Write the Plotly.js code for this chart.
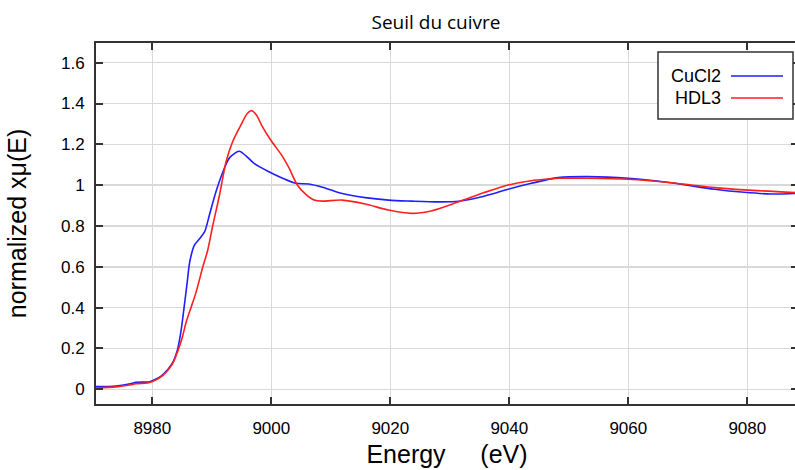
<!DOCTYPE html>
<html>
<head>
<meta charset="utf-8">
<script src="https://cdn.plot.ly/plotly-3.0.1.min.js"></script>
<style>
html,body{margin:0;padding:0;overflow:hidden;background:#fff;}
#chart{width:798px;height:470px;}
</style>
</head>
<body>
<div id="chart"></div>
<script>
// CuCl2 series
const energyCuCl2 = [8970.5, 8973.9, 8976.5, 8977.2, 8979.4, 8980.0, 8981.7, 8983.35, 8984.2, 8984.8, 8985.3, 8985.85, 8986.3, 8987.1, 8987.9, 8988.8, 8989.6, 8990.7, 8991.8, 8993.0, 8994.6, 8995.7, 8997.1, 8999.6, 9001.9, 9004.1, 9006.3, 9008.6, 9011.4, 9015.8, 9019.7, 9023.6, 9028.1, 9031.5, 9035.9, 9039.8, 9043.7, 9048.2, 9053.2, 9060.0, 9067.2, 9074.5, 9079.5, 9084.0, 9088.5];
const muCuCl2 = [0.013, 0.016, 0.028, 0.034, 0.036, 0.042, 0.07, 0.127, 0.19, 0.28, 0.39, 0.52, 0.625, 0.707, 0.736, 0.772, 0.854, 0.968, 1.06, 1.135, 1.166, 1.145, 1.107, 1.066, 1.034, 1.009, 1.006, 0.99, 0.963, 0.939, 0.927, 0.922, 0.918, 0.921, 0.947, 0.98, 1.009, 1.037, 1.042, 1.034, 1.012, 0.98, 0.965, 0.957, 0.96];
// HDL3 series
const energyHDL3 = [8970.5, 8973.9, 8976.5, 8977.2, 8979.4, 8980.0, 8981.7, 8983.35, 8984.2, 8985.0, 8985.7, 8986.5, 8987.3, 8988.5, 8989.3, 8990.15, 8991.3, 8992.4, 8993.5, 8994.9, 8996.0, 8996.7, 8997.5, 8998.5, 8999.9, 9001.9, 9003.0, 9004.4, 9005.8, 9007.2, 9008.6, 9011.9, 9015.8, 9019.7, 9023.6, 9027.0, 9031.5, 9035.9, 9039.8, 9043.7, 9046.5, 9048.2, 9053.2, 9060.0, 9067.2, 9074.5, 9079.5, 9088.5];
const muHDL3 = [0.006, 0.012, 0.022, 0.027, 0.032, 0.038, 0.066, 0.122, 0.18, 0.25, 0.33, 0.40, 0.47, 0.60, 0.68, 0.80, 0.952, 1.115, 1.213, 1.295, 1.352, 1.365, 1.344, 1.287, 1.221, 1.14, 1.083, 1.0, 0.955, 0.927, 0.922, 0.927, 0.908, 0.878, 0.862, 0.875, 0.919, 0.965, 1.001, 1.022, 1.03, 1.034, 1.034, 1.029, 1.012, 0.988, 0.977, 0.963];

const seriesNames = ['CuCl2', 'HDL3'];
const seriesColors = ['#1f1fff', '#ff1f1f'];
const xTicks = [8980, 9000, 9020, 9040, 9060, 9080];
const yTicks = [0, 0.2, 0.4, 0.6, 0.8, 1, 1.2, 1.4, 1.6];
const yTickText = ['0', '0.2', '0.4', '0.6', '0.8', '1', '1.2', '1.4', '1.6'];

const traces = [
  {x: energyCuCl2, y: muCuCl2, name: seriesNames[0], mode: 'lines',
   line: {color: seriesColors[0], width: 1.6, shape: 'spline', smoothing: 0.8}},
  {x: energyHDL3, y: muHDL3, name: seriesNames[1], mode: 'lines',
   line: {color: seriesColors[1], width: 1.6, shape: 'spline', smoothing: 0.8}}
];

// custom legend (text then line sample), placed in paper coordinates
const PW = 702, PH = 361, PL = 96, PB = 404;
const px = v => (v - PL) / PW;
const py = v => (PB - v) / PH;
const rowY = [76, 98];
const shapes = [
  {type: 'rect', xref: 'paper', yref: 'paper', x0: px(658), x1: px(793), y0: py(119), y1: py(52),
   line: {color: '#333', width: 1.5}, fillcolor: '#fff', layer: 'above'}
];
const annotations = [];
seriesNames.forEach((n, i) => {
  annotations.push({xref: 'paper', yref: 'paper', x: px(723), y: py(rowY[i]), xanchor: 'right', yanchor: 'middle',
    text: n, showarrow: false, font: {family: 'Liberation Sans, Arial, sans-serif', size: 18, color: '#000'}});
  shapes.push({type: 'line', xref: 'paper', yref: 'paper', x0: px(731), x1: px(783), y0: py(rowY[i]), y1: py(rowY[i]),
    line: {color: seriesColors[i], width: 1.5}, layer: 'above'});
});

const axisFont = {family: 'Liberation Sans, Arial, sans-serif', size: 17, color: '#000'};
const layout = {
  width: 798, height: 470,
  margin: {l: 96, r: 0, t: 43, b: 66},
  paper_bgcolor: '#fff', plot_bgcolor: '#fff',
  showlegend: false,
  title: {text: 'Seuil du cuivre', x: 436 / 798, xref: 'container', xanchor: 'center', y: 1 - 22 / 470, yanchor: 'middle',
    font: {family: 'Open Sans, Noto Sans, sans-serif', size: 19, color: '#000'}},
  xaxis: {
    range: [8970.54, 9088.52], tickvals: xTicks, ticks: 'inside', ticklen: 7, tickwidth: 2, tickcolor: '#333',
    showline: true, linecolor: '#333', linewidth: 2, mirror: 'ticks',
    showgrid: true, gridcolor: '#d9d9d9', gridwidth: 1.5, zeroline: false,
    tickfont: axisFont, ticklabelstandoff: 8,
    title: {text: 'Energy\u00a0\u00a0\u00a0\u00a0\u00a0(eV)', font: {family: 'Liberation Sans, Arial, sans-serif', size: 25, color: '#000'}, standoff: 8}
  },
  yaxis: {
    range: [-0.072, 1.6965], tickvals: yTicks, ticktext: yTickText, ticks: 'inside', ticklen: 7, tickwidth: 2, tickcolor: '#333',
    showline: true, linecolor: '#333', linewidth: 2, mirror: 'ticks',
    showgrid: true, gridcolor: '#d9d9d9', gridwidth: 1.5, zeroline: false,
    tickfont: axisFont, ticklabelstandoff: 6,
    title: {text: 'normalized xμ(E)', font: {family: 'Liberation Sans, Arial, sans-serif', size: 25, color: '#000'}, standoff: 27}
  },
  shapes: shapes,
  annotations: annotations
};

Plotly.newPlot('chart', traces, layout, {displayModeBar: false, staticPlot: true});
</script>
</body>
</html>
